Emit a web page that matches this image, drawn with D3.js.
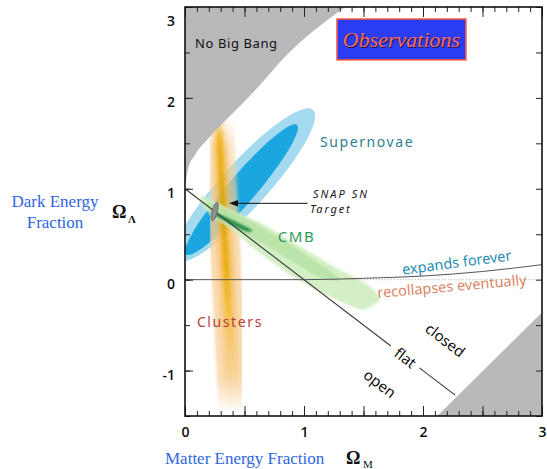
<!DOCTYPE html>
<html>
<head>
<meta charset="utf-8">
<script src="https://cdn.jsdelivr.net/npm/d3@7/dist/d3.min.js"></script>
<style>
  html, body { margin: 0; padding: 0; background: #fff; }
  svg { display: block; }
</style>
</head>
<body>
<svg id="chart" width="547" height="469"></svg>
<script>
// Cosmological parameter plane: matter fraction vs dark-energy fraction
const xTickLabels = [0, 1, 2, 3];
const yTickLabels = [-1, 0, 1, 2, 3];
const xMinorTicks = d3.range(0, 31).map(i => i / 10);
const xMidTicks = [0, 0.5, 1, 1.5, 2, 2.5, 3];
const yTicks = [-1.5, -1, -0.5, 0, 0.5, 1, 1.5, 2, 2.5, 3];

// Boundary of the "no big bang" region (Ω_M, Ω_Λ)
const noBigBangEdge = [[0, 1.01], [0.025, 1.21], [0.084, 1.374], [0.185, 1.538], [0.311, 1.714],
                       [0.462, 1.912], [0.63, 2.143], [0.815, 2.418], [1.008, 2.659],
                       [1.176, 2.835], [1.345, 3.0]];
// Lower-right excluded corner
const cornerEdge = [[2.12, -1.5], [3.0, -0.36]];
// Flat universe line Ω_M + Ω_Λ = 1 (broken around its label)
const flatSegments = [[[0, 1], [1.73, -0.73]], [[1.97, -0.97], [2.27, -1.27]]];
// Expand forever / recollapse boundary
const expansionEdge = [[0, 0], [1, 0], [1.5, 0.015], [2, 0.04], [2.5, 0.09], [3, 0.165]];
const zeroGuide = [[1.2, 0], [3, 0]];

// Supernova confidence contours: centre and end of the long axis
const snOuter = [[0.50, 1.04], [1.076, 1.868]];
const snInner = [[0.475, 0.99], [0.941, 1.703]];
// Cluster band: top and bottom of its centre line
const clusterAxis = [[0.28, 1.78], [0.41, -1.46]];
// CMB contours (outline points)
const cmbOuter = [[0.15, 0.92], [0.378, 0.775], [0.658, 0.61], [0.939, 0.39], [1.218, 0.17],
                  [1.527, -0.05], [1.64, -0.21], [1.49, -0.33], [1.191, -0.17], [0.910, 0.03],
                  [0.630, 0.29], [0.378, 0.565], [0.210, 0.72], [0.135, 0.845]];
const cmbMid = [[0.196, 0.855], [0.518, 0.669], [0.855, 0.413], [1.191, 0.120], [1.30, 0.0],
                [1.134, 0.026], [0.798, 0.283], [0.462, 0.539], [0.224, 0.741]];
const cmbCore = [[0.215, 0.755], [0.35, 0.69], [0.50, 0.595], [0.57, 0.54], [0.52, 0.525],
                 [0.38, 0.605], [0.245, 0.705]];
// SNAP target contour
const snapTarget = [[0.25, 0.75], [0.27, 0.85]];
// Arrow from the SNAP label to its contour
const snapArrow = [[1.03, 0.84], [0.37, 0.84]];

const W = 547, H = 469;
const margin = { top: 7, right: 5, bottom: 53, left: 185 };
const x = d3.scaleLinear().domain([0, 3]).range([margin.left, W - margin.right]);
const y = d3.scaleLinear().domain([-1.5, 3]).range([H - margin.bottom, margin.top]);

const svg = d3.select("#chart");
const defs = svg.append("defs");

defs.append("clipPath").attr("id", "plotClip")
  .append("rect")
  .attr("x", x(0)).attr("y", y(3))
  .attr("width", x(3) - x(0)).attr("height", y(-1.5) - y(3));

defs.append("filter").attr("id", "soft").attr("x", "-20%").attr("y", "-20%")
  .attr("width", "140%").attr("height", "140%")
  .append("feGaussianBlur").attr("stdDeviation", 0.7);
defs.append("filter").attr("id", "softer").attr("x", "-50%").attr("y", "-10%")
  .attr("width", "200%").attr("height", "120%")
  .append("feGaussianBlur").attr("stdDeviation", 1.6);
defs.append("filter").attr("id", "cmbBlur").attr("x", "-20%").attr("y", "-20%")
  .attr("width", "140%").attr("height", "140%")
  .append("feGaussianBlur").attr("stdDeviation", 1.2);

// fading gradients along the cluster band
function bandGradient(id, color, stops) {
  const g = defs.append("linearGradient").attr("id", id)
    .attr("gradientUnits", "userSpaceOnUse")
    .attr("x1", x(clusterAxis[0][0])).attr("y1", y(clusterAxis[0][1]))
    .attr("x2", x(clusterAxis[1][0])).attr("y2", y(clusterAxis[1][1]));
  stops.forEach(([o, a]) => g.append("stop").attr("offset", o)
    .attr("stop-color", color).attr("stop-opacity", a));
}
bandGradient("clOuter", "#f8cf98", [[0, 0], [0.1, 0.55], [0.4, 0.85], [0.88, 0.8], [1, 0]]);
bandGradient("clMid", "#f6bf68", [[0, 0], [0.12, 0.6], [0.5, 0.75], [0.85, 0.35], [1, 0]]);
bandGradient("clCore", "#f1b30a", [[0, 0], [0.08, 0.85], [0.5, 0.95], [0.75, 0.3], [0.9, 0]]);
bandGradient("clLine", "#d89800", [[0, 0], [0.12, 0.7], [0.45, 0.8], [0.7, 0], [1, 0]]);

svg.append("rect").attr("width", W).attr("height", H).attr("fill", "#fff");

const plot = svg.append("g").attr("clip-path", "url(#plotClip)");

// ellipse in screen space from a centre and long-axis end given in data units
function ellipsePath(axis, halfWidth) {
  const cx = x(axis[0][0]), cy = y(axis[0][1]);
  const tx = x(axis[1][0]), ty = y(axis[1][1]);
  const a = Math.hypot(tx - cx, ty - cy);
  const ux = (tx - cx) / a, uy = (ty - cy) / a;
  const vx = -uy, vy = ux;
  const pts = d3.range(0, 72).map(i => {
    const t = i / 72 * 2 * Math.PI;
    return [cx + a * Math.cos(t) * ux + halfWidth * Math.sin(t) * vx,
            cy + a * Math.cos(t) * uy + halfWidth * Math.sin(t) * vy];
  });
  return d3.line().curve(d3.curveLinearClosed)(pts);
}

// supernovae
const snG = plot.append("g").attr("filter", "url(#soft)");
snG.append("path").attr("d", ellipsePath(snOuter, 23)).attr("fill", "#a3daef");
snG.append("path").attr("d", ellipsePath(snInner, 14)).attr("fill", "#1ea6df");

// clusters
const clLine = d3.line().x(d => x(d[0])).y(d => y(d[1]));
const clG = plot.append("g").attr("filter", "url(#softer)").attr("opacity", 0.92);
[["clOuter", 30], ["clMid", 17], ["clCore", 9], ["clLine", 2.5]].forEach(([id, w]) => {
  clG.append("path").attr("d", clLine(clusterAxis)).attr("stroke", `url(#${id})`)
    .attr("stroke-width", w).attr("fill", "none");
});

// CMB
const closedCurve = d3.line().x(d => x(d[0])).y(d => y(d[1])).curve(d3.curveCardinalClosed.tension(0.3));
const cmbG = plot.append("g").attr("filter", "url(#cmbBlur)");
cmbG.append("path").attr("d", closedCurve(cmbOuter)).attr("fill", "#d2eec3").attr("opacity", 0.95);
cmbG.append("path").attr("d", closedCurve(cmbMid)).attr("fill", "#b5e2a2").attr("opacity", 0.85);
cmbG.append("path").attr("d", closedCurve(cmbCore)).attr("fill", "#25994f");

// excluded regions
plot.append("path")
  .datum(noBigBangEdge)
  .attr("fill", "#b9b9bb")
  .attr("d", d3.area().x(d => x(d[0])).y0(d => y(d[1])).y1(y(3)).curve(d3.curveMonotoneX));
plot.append("path")
  .datum(cornerEdge)
  .attr("fill", "#b9b9bb")
  .attr("d", d3.area().x(d => x(d[0])).y0(y(-1.5)).y1(d => y(d[1])));

// reference lines
const lineGen = d3.line().x(d => x(d[0])).y(d => y(d[1]));
plot.append("path").attr("d", lineGen(zeroGuide)).attr("stroke", "#8a8a8a")
  .attr("stroke-dasharray", "1,2").attr("fill", "none").attr("opacity", 0.7);
plot.append("path").attr("d", lineGen.curve(d3.curveMonotoneX)(expansionEdge))
  .attr("stroke", "#555").attr("stroke-width", 1).attr("fill", "none");
lineGen.curve(d3.curveLinear);
flatSegments.forEach(seg => {
  plot.append("path").attr("d", lineGen(seg)).attr("stroke", "#3a3a3a")
    .attr("stroke-width", 1.1).attr("fill", "none");
});

// SNAP target
plot.append("path").attr("d", ellipsePath(snapTarget, 2.6))
  .attr("fill", "#8d8f92").attr("stroke", "#5a5a5a").attr("stroke-width", 0.8);

// arrow
const ax0 = x(snapArrow[0][0]), ay0 = y(snapArrow[0][1]);
const ax1 = x(snapArrow[1][0]), ay1 = y(snapArrow[1][1]);
svg.append("line").attr("x1", ax0).attr("y1", ay0).attr("x2", ax1 + 6).attr("y2", ay1)
  .attr("stroke", "#111").attr("stroke-width", 1);
svg.append("path")
  .attr("d", `M${ax1},${ay1} L${ax1 + 9},${ay1 - 3.2} L${ax1 + 9},${ay1 + 3.2} Z`)
  .attr("fill", "#111");

// frame and ticks
const frame = svg.append("g");
frame.append("g").attr("transform", `translate(0,${y(-1.5)})`)
  .call(d3.axisBottom(x).tickValues(xMinorTicks).tickSize(-5).tickFormat(""));
frame.append("g").attr("transform", `translate(0,${y(-1.5)})`)
  .call(d3.axisBottom(x).tickValues(xMidTicks).tickSize(-10).tickPadding(11)
    .tickFormat(d => xTickLabels.includes(d) ? d3.format("d")(d) : ""));
frame.append("g").attr("transform", `translate(0,${y(3)})`)
  .call(d3.axisTop(x).tickValues(xMinorTicks).tickSize(-5).tickFormat(""));
frame.append("g").attr("transform", `translate(0,${y(3)})`)
  .call(d3.axisTop(x).tickValues(xMidTicks).tickSize(-10).tickFormat(""));
frame.append("g").attr("transform", `translate(${x(0)},0)`)
  .call(d3.axisLeft(y).tickValues(yTicks).tickSize(-5).tickFormat(""));
const yLab = frame.append("g").attr("transform", `translate(${x(0)},0)`)
  .call(d3.axisLeft(y).tickValues(yTickLabels).tickSize(-8).tickPadding(10)
    .tickFormat(d => d3.format("d")(d).replace("−", "-")));
// labels sit a little below their ticks; the top one clears the frame
yLab.selectAll(".tick text").attr("dy", d => d === 3 ? "1.35em" : "0.62em");
frame.append("g").attr("transform", `translate(${x(3)},0)`)
  .call(d3.axisRight(y).tickValues(yTicks).tickSize(-6).tickFormat(""));
frame.selectAll(".domain").remove();
frame.selectAll(".tick line").attr("stroke", "#222").attr("stroke-width", 1);
frame.selectAll(".tick text").attr("font-family", "'Open Sans', sans-serif")
  .attr("font-size", 14).attr("font-weight", 600).attr("fill", "#111");
frame.append("rect").attr("x", x(0)).attr("y", y(3))
  .attr("width", x(3) - x(0)).attr("height", y(-1.5) - y(3))
  .attr("fill", "none").attr("stroke", "#111").attr("stroke-width", 1.6);

// labels
const sans = "'Noto Sans', 'Open Sans', sans-serif";
const serif = "'Liberation Serif', 'DejaVu Serif', serif";
function label(txt, px, py, opts = {}) {
  const t = svg.append("text").text(txt)
    .attr("x", px).attr("y", py)
    .attr("font-family", opts.family || sans)
    .attr("font-size", opts.size || 14)
    .attr("fill", opts.color || "#111")
    .attr("text-anchor", opts.anchor || "start");
  if (opts.spacing) t.attr("letter-spacing", opts.spacing);
  if (opts.style) t.attr("font-style", opts.style);
  if (opts.weight) t.attr("font-weight", opts.weight);
  if (opts.baseline) t.attr("dominant-baseline", opts.baseline);
  if (opts.rotate) t.attr("transform", `rotate(${opts.rotate},${px},${py})`);
  return t;
}

label("No Big Bang", x(0.084), y(2.55), { size: 13, spacing: 0.6 });

// Observations badge
const bx0 = x(1.277), bx1 = x(2.361), by0 = y(2.868), by1 = y(2.418);
svg.append("rect").attr("x", bx0).attr("y", by0).attr("width", bx1 - bx0).attr("height", by1 - by0)
  .attr("fill", "#2b3cf5").attr("stroke", "#ff5a3a").attr("stroke-width", 1.5);
label("Observations", (bx0 + bx1) / 2 + 1, by0 + 29, { family: serif, size: 22, style: "italic", color: "#1a1030", anchor: "middle" });
label("Observations", (bx0 + bx1) / 2, by0 + 28, { family: serif, size: 22, style: "italic", color: "#ff6e5e", anchor: "middle" });

label("Supernovae", x(1.134), y(1.46), { size: 14, spacing: 1.6, color: "#2d7f90" });
label("CMB", x(0.78), y(0.418), { size: 15, spacing: 1.5, color: "#2f9a5c" });
label("Clusters", x(0.10), y(-0.516), { size: 14, spacing: 1.6, color: "#b73c3c" });
label("SNAP SN", x(1.076), y(0.90), { size: 11, spacing: 2, style: "italic", color: "#1a1a1a" });
label("Target", x(1.05), y(0.736), { size: 11, spacing: 1.8, style: "italic", color: "#1a1a1a" });

label("expands forever", x(1.83), y(0.055), { size: 14.5, color: "#1f8db5", rotate: -7.5 });
label("recollapses eventually", x(1.62), y(-0.2), { size: 14.5, color: "#d98468", rotate: -5 });

const flatAngle = Math.atan2(y(0) - y(1), x(1) - x(0)) * 180 / Math.PI;
label("closed", x(2.19), y(-0.66), { size: 15, anchor: "middle", baseline: "central", rotate: flatAngle });
label("flat", x(1.855), y(-0.855), { size: 15, anchor: "middle", baseline: "central", rotate: flatAngle });
label("open", x(1.64), y(-1.14), { size: 15, anchor: "middle", baseline: "central", rotate: flatAngle });

// axis titles
label("Dark Energy", 55, 207, { family: serif, size: 17, color: "#2f66e0", anchor: "middle" });
label("Fraction", 55, 228, { family: serif, size: 17, color: "#2f66e0", anchor: "middle" });
label("Ω", 112, 218, { family: serif, size: 18, weight: "bold" });
label("Λ", 128, 223, { family: serif, size: 11, weight: "bold" });

label("Matter Energy Fraction", 165, 464, { family: serif, size: 17, color: "#2f66e0" });
label("Ω", 346, 464, { family: serif, size: 18, weight: "bold" });
label("M", 363, 468, { family: serif, size: 11 });
</script>
</body>
</html>
